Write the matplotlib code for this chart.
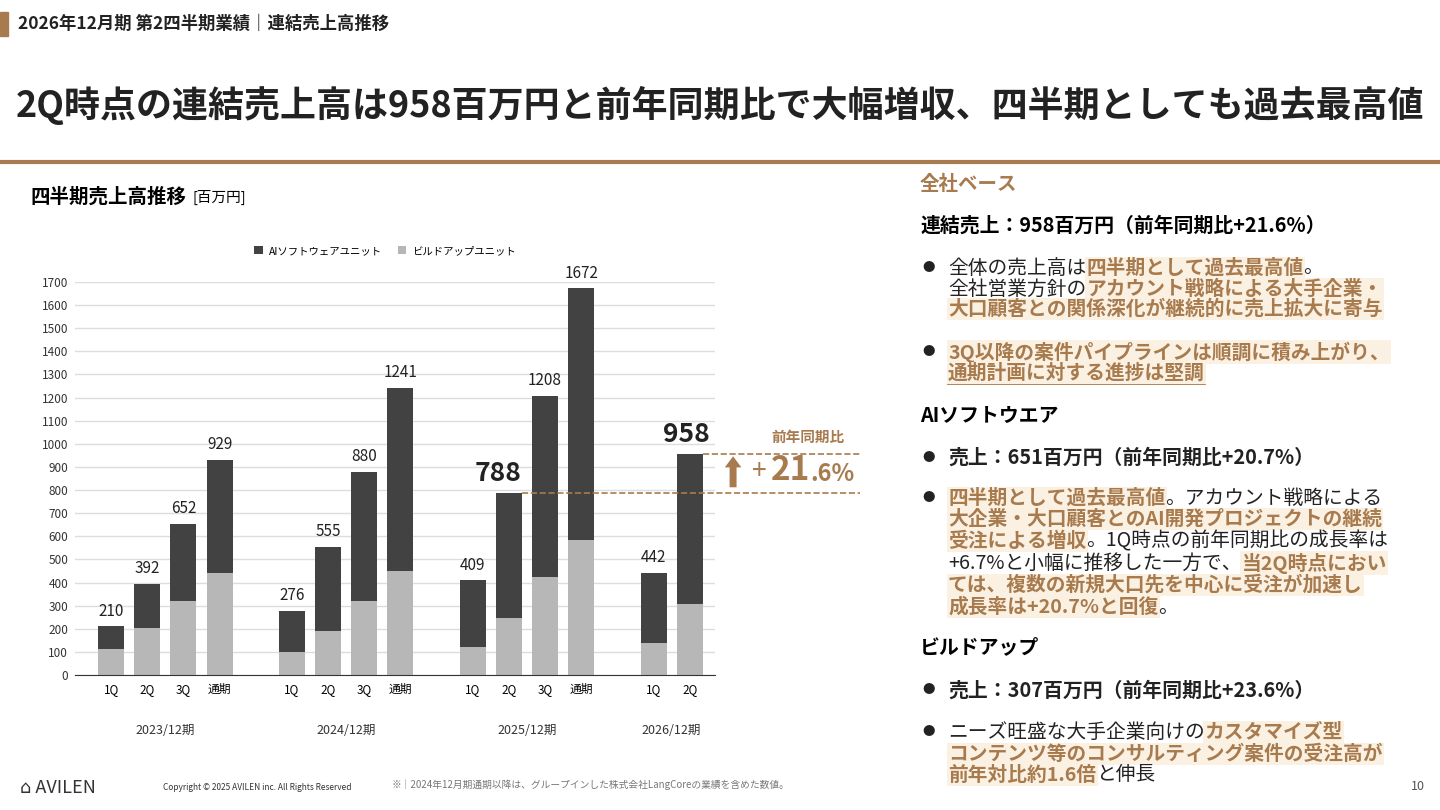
import numpy as np
import matplotlib
matplotlib.use('Agg')
import matplotlib.pyplot as plt

plt.rcParams['font.family'] = ['Noto Sans CJK JP', 'DejaVu Sans']

# data
quarters = ['1Q', '2Q', '3Q', '通期', '1Q', '2Q', '3Q', '通期',
            '1Q', '2Q', '3Q', '通期', '1Q', '2Q']
years = ['2023/12期', '2024/12期', '2025/12期', '2026/12期']
totals = [210, 392, 652, 929, 276, 555, 880, 1241, 409, 788, 1208, 1672, 442, 958]
buildup = [112, 203, 322, 443, 100, 190, 318, 451, 121, 248, 422, 582, 140, 307]
ai_soft = [t - b for t, b in zip(totals, buildup)]

BROWN = '#a87b4f'
HL_BG = '#fbf1e2'
DARK = '#424242'
LIGHT = '#b7b7b7'

W, H = 1440, 810
fig = plt.figure(figsize=(14.4, 8.1), dpi=100)

def px(x, y):
    return x / W, 1 - y / H

# slide header
fig.patches.append(plt.Rectangle(px(0, 36), 8 / W, 24 / H, transform=fig.transFigure,
                                 color=BROWN))
fig.text(*px(18, 24), '2026年12月期 第2四半期業績｜連結売上高推移', fontsize=12.5,
         fontweight='bold', color='#222222', va='center')
fig.text(*px(16, 105), '2Q時点の連結売上高は958百万円と前年同期比で大幅増収、四半期としても過去最高値',
         fontsize=25.9, fontweight='bold', color='#222222', va='center')
fig.add_artist(plt.Line2D([0, 1], [1 - 162 / H] * 2, color=BROWN, lw=3))
fig.text(*px(30, 197), '四半期売上高推移', fontsize=14, fontweight='bold', va='center')
fig.text(*px(193, 197), '[百万円]', fontsize=10.5, va='center')

# chart
ax = fig.add_axes([75 / W, 1 - 675 / H, 640 / W, (675 - 282) / H])
xpos = np.array([0, 1, 2, 3, 5, 6, 7, 8, 10, 11, 12, 13, 15, 16])
bw = 0.72
ax.bar(xpos, buildup, bw, color=LIGHT, zorder=2, label='ビルドアップユニット')
ax.bar(xpos, ai_soft, bw, bottom=buildup, color=DARK, zorder=2, label='AIソフトウェアユニット')
ax.set_xlim(-1, 16.7)
ax.set_ylim(0, 1700)
ax.set_yticks(range(0, 1701, 100))
ax.tick_params(axis='y', labelsize=8.5, length=0, pad=5, colors='#333333')
ax.set_xticks(xpos)
ax.set_xticklabels(quarters, fontsize=8.5)
ax.tick_params(axis='x', length=0, pad=6)
ax.grid(axis='y', color='#dddddd', lw=1, zorder=0)
for s in ['top', 'right', 'left']:
    ax.spines[s].set_visible(False)
ax.spines['bottom'].set_color('#333333')

for i, (x, t) in enumerate(zip(xpos, totals)):
    if t in (788, 958):
        ax.text(x - (0.3 if t == 788 else 0.1), t + 25, str(t), ha='center', va='bottom',
                fontsize=19, fontweight='bold', color='#222222', clip_on=False)
    else:
        ax.text(x, t + 30, str(t), ha='center', va='bottom', fontsize=11,
                color='#222222', clip_on=False)

for j, y in enumerate(years):
    gx = xpos[j * 4:j * 4 + 4].mean()
    ax.text(gx, -238, y, ha='center', va='center', fontsize=9, color='#333333')

# legend at top
handles, labels = ax.get_legend_handles_labels()
fig.legend(handles[::-1], labels[::-1], loc='center', bbox_to_anchor=px(385, 251),
           ncol=2, frameon=False, fontsize=7.5, handlelength=0.8, handleheight=0.8,
           columnspacing=1.5, handletextpad=0.6)

# yoy dashed lines
ax.plot([11.36, 20.7], [788, 788], ls='--', color=BROWN, lw=1.2, clip_on=False)
ax.plot([16.36, 20.7], [958, 958], ls='--', color=BROWN, lw=1.2, clip_on=False)
ax.annotate('', xy=(17.2, 958), xytext=(17.2, 800),
            arrowprops=dict(arrowstyle='simple,head_width=1.2,head_length=0.8,tail_width=0.5',
                            color=BROWN, lw=0), annotation_clip=False)
fig.text(*px(808, 437), '前年同期比', fontsize=10.5, fontweight='bold', color=BROWN,
         ha='center', va='center')
fig.text(*px(752, 472), '+', fontsize=19, color=BROWN, va='center')
fig.text(*px(771, 470), '21', fontsize=24, fontweight='bold', color=BROWN, va='center')
fig.text(*px(810, 474), '.6%', fontsize=17, fontweight='bold', color=BROWN, va='center')

# right side text
renderer = fig.canvas.get_renderer()

def runs(x, y, parts, size=14.2):
    for txt, st in parts:
        kw = dict(fontsize=size, va='center', color='#222222')
        if st in ('h', 'u'):
            kw.update(color=BROWN, fontweight='bold',
                      bbox=dict(facecolor=HL_BG, edgecolor='none', pad=1.0))
        elif st == 'b':
            kw.update(fontweight='bold')
        t = fig.text(*px(x, y), txt, **kw)
        bb = t.get_window_extent(renderer)
        if st == 'u':
            fig.add_artist(plt.Line2D([x / W, (x + bb.width) / W],
                                      [1 - (y + 11) / H] * 2, color=BROWN, lw=1.3))
        x += bb.width

def bullet(y):
    fig.text(*px(922, y), '●', fontsize=9, va='center', color='#222222')

TX = 948
fig.text(*px(920, 184), '全社ベース', fontsize=14, fontweight='bold', color=BROWN, va='center')
fig.text(*px(920, 225), '連結売上：958百万円（前年同期比+21.6%）', fontsize=14.3,
         fontweight='bold', va='center')
bullet(268)
runs(TX, 268, [('全体の売上高は', 'n'), ('四半期として過去最高値', 'u'), ('。', 'n')])
runs(TX, 289, [('全社営業方針の', 'n'), ('アカウント戦略による大手企業・', 'h')])
runs(TX, 309, [('大口顧客との関係深化が継続的に売上拡大に寄与', 'h')])
bullet(352)
runs(TX, 352, [('3Q以降の案件パイプラインは順調に積み上がり、', 'u')])
runs(TX, 373, [('通期計画に対する進捗は堅調', 'u')])
fig.text(*px(920, 415), 'AIソフトウエア', fontsize=14.3, fontweight='bold', va='center')
bullet(457)
runs(TX, 457, [('売上：651百万円（前年同期比+20.7%）', 'b')], size=14.3)
bullet(498)
runs(TX, 498, [('四半期として過去最高値', 'u'), ('。アカウント戦略による', 'n')])
runs(TX, 519, [('大企業・大口顧客とのAI開発プロジェクトの継続', 'h')])
runs(TX, 541, [('受注による増収', 'h'), ('。1Q時点の前年同期比の成長率は', 'n')])
runs(TX, 563, [('+6.7%と小幅に推移した一方で、', 'n'), ('当2Q時点におい', 'h')])
runs(TX, 585, [('ては、複数の新規大口先を中心に受注が加速し', 'h')])
runs(TX, 607, [('成長率は+20.7%と回復', 'h'), ('。', 'n')])
fig.text(*px(920, 647), 'ビルドアップ', fontsize=14.3, fontweight='bold', va='center')
bullet(690)
runs(TX, 690, [('売上：307百万円（前年同期比+23.6%）', 'b')], size=14.3)
bullet(732)
runs(TX, 732, [('ニーズ旺盛な大手企業向けの', 'n'), ('カスタマイズ型', 'h')])
runs(TX, 754, [('コンテンツ等のコンサルティング案件の受注高が', 'h')])
runs(TX, 775, [('前年対比約1.6倍', 'h'), ('と伸長', 'n')])

# footer
fig.text(*px(20, 788), '⌂ AVILEN', fontsize=13, color='#333333', va='center')
fig.text(*px(163, 788), 'Copyright © 2025 AVILEN inc. All Rights Reserved', fontsize=6,
         color='#333333', va='center')
fig.text(*px(392, 785), '※｜2024年12月期通期以降は、グループインした株式会社LangCoreの業績を含めた数値。',
         fontsize=7, color='#777777', va='center')
fig.text(*px(1411, 787), '10', fontsize=9, color='#555555', va='center')

fig.savefig('out.png', dpi=100)
